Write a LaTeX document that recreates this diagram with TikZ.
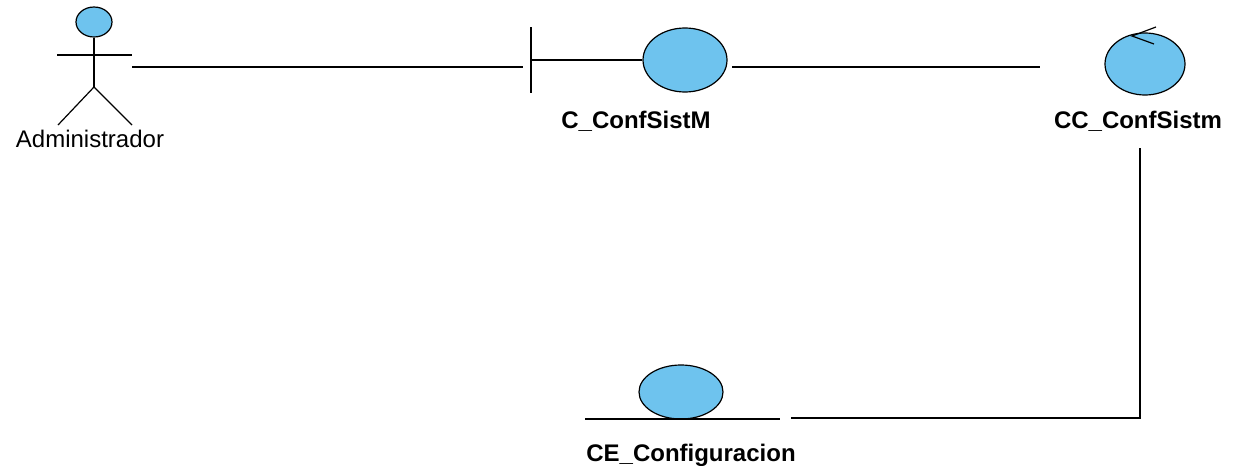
\documentclass[tikz,border=0pt]{standalone}
\usepackage{fontspec}
\setmainfont{Liberation Sans}
\usetikzlibrary{shapes.geometric}
\definecolor{objblue}{RGB}{110,195,238}
\newcommand\lbl[1]{\fontsize{24}{28}\selectfont\textbf{#1}}

\begin{document}
\begin{tikzpicture}[x=1pt,y=-1pt,line width=1.2pt]
	\useasboundingbox (0,0) rectangle (1251,466);
	% actor
	\node [draw, ellipse, fill=objblue, minimum width=36, minimum height=30, inner sep=0] (head) at (94,22) {};
	\coordinate (hip) at (94,87);
	\draw (head.south) -- (hip);
	\draw (57,55) -- (132,55);
	\draw (58,125) -- (hip) -- (132,125);
	\node [anchor=base, inner sep=0] (adm) at (90,147) {\fontsize{24}{28}\selectfont Administrador};
	\coordinate (admR) at (132,67);
	% boundary
	\node [draw, ellipse, fill=objblue, minimum width=84, minimum height=64, inner sep=0] (bnd) at (685,60) {};
	\coordinate (bar) at (531,60);
	\draw (531,27) -- (531,93);
	\draw (bar) -- (bnd.west);
	\coordinate (bndL) at (523,67);
	\coordinate (bndR) at (732,67);
	\node [anchor=base, inner sep=0] (bndlbl) at (636,128) {\lbl{C\_ConfSistM}};
	% control
	\node [draw, ellipse, fill=objblue, minimum width=80, minimum height=62, inner sep=0] (ctl) at (1145,64) {};
	\draw (1156,27) -- (1132,36) -- (1154,44);
	\coordinate (ctlL) at (1040,67);
	\coordinate (ctlB) at (1140,148);
	\coordinate (bend) at (1140,418);
	\node [anchor=base, inner sep=0] (ctllbl) at (1138,128) {\lbl{CC\_ConfSistm}};
	% entity
	\node [draw, ellipse, fill=objblue, minimum width=84, minimum height=54, inner sep=0] (ent) at (681,392) {};
	\draw (585,419) -- (780,419);
	\coordinate (entR) at (791,418);
	\node [anchor=base, inner sep=0] (entlbl) at (691,461) {\lbl{CE\_Configuracion}};
	% connectors
	\draw (admR) -- (bndL);
	\draw (bndR) -- (ctlL);
	\draw (ctlB) -- (bend) -- (entR);
\end{tikzpicture}
\end{document}
